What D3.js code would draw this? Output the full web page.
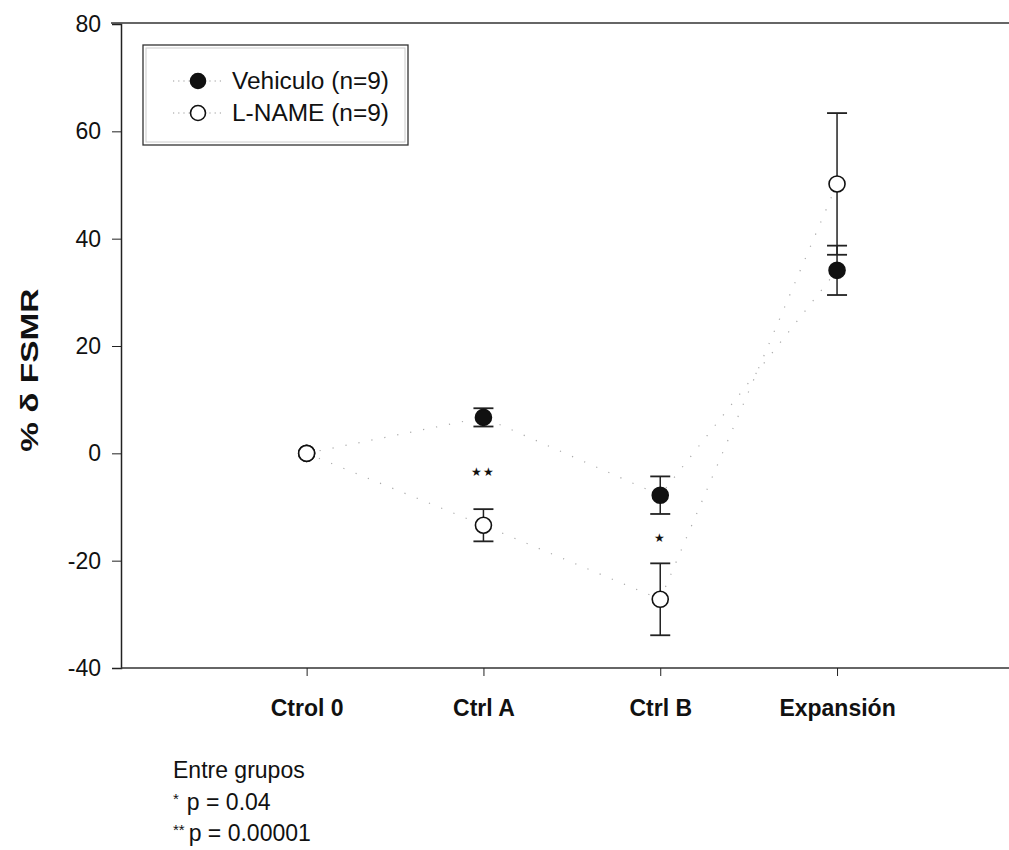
<!DOCTYPE html>
<html>
<head>
<meta charset="utf-8">
<script src="https://cdn.jsdelivr.net/npm/d3@7"></script>
<style>
  body { margin: 0; background: #fff; }
  text { font-family: "Liberation Sans", Arial, sans-serif; fill: #111; }
</style>
</head>
<body>
<svg id="chart" width="1009" height="850"></svg>
<script>
// Data
const categories = ["Ctrol 0", "Ctrl A", "Ctrl B", "Expansión"];
const vehiculoMean = [0, 6.7, -7.8, 34.1];
const vehiculoErr = [0, 1.7, 3.5, 4.6];
const lnameMean = [0, -13.4, -27.2, 50.2];
const lnameErr = [0, 3.0, 6.7, 13.2];
const yTicks = [-40, -20, 0, 20, 40, 60, 80];
const seriesNames = ["Vehiculo (n=9)", "L-NAME (n=9)"];
const sigMarks = [{cat: 1, value: -3.6, label: "★★"}, {cat: 2, value: -16.0, label: "★"}];
const footStars = ["", "*", "**"];
const footText = ["Entre grupos", "p = 0.04", "p = 0.00001"];

const svg = d3.select("#chart");

// Scales
const xScale = d3.scaleLinear()
  .domain([-1.05, 3.95])
  .range([121, 1005]);

const yScale = d3.scaleLinear()
  .domain([-40, 80])
  .range([668, 24]);

// Top frame line
svg.append("line")
  .attr("x1", 111).attr("x2", 1009)
  .attr("y1", 23).attr("y2", 23)
  .attr("stroke", "#333").attr("stroke-width", 1.5);

// y-axis
const yAxis = svg.append("g")
  .attr("transform", `translate(121, 0)`)
  .call(d3.axisLeft(yScale).tickValues(yTicks).tickSize(9).tickPadding(11)
    .tickFormat(d => d < 0 ? "-" + Math.abs(d) : d));
yAxis.select(".domain").attr("stroke", "#222").attr("stroke-width", 1.5);
yAxis.selectAll(".tick line").attr("stroke", "#222");
yAxis.selectAll("text")
  .attr("font-size", "23px")
  .attr("font-family", "Liberation Sans, Arial, sans-serif")
  .attr("fill", "#111");

// x-axis
const xAxis = svg.append("g")
  .attr("transform", `translate(0, ${yScale(-40)})`)
  .call(d3.axisBottom(xScale).tickValues(d3.range(categories.length))
    .tickFormat(i => categories[i]).tickSize(8).tickSizeOuter(0).tickPadding(24));
xAxis.select(".domain").attr("stroke", "#333").attr("stroke-width", 1.5)
  .attr("d", `M121,0H1009`);
xAxis.selectAll(".tick line").attr("stroke", "#222");
xAxis.selectAll("text")
  .attr("font-size", "23px")
  .attr("font-weight", "bold")
  .attr("font-family", "Liberation Sans, Arial, sans-serif")
  .attr("fill", "#111");

// Axis title
svg.append("text")
  .attr("transform", `translate(38, ${yScale(15.5)}) rotate(-90)`)
  .attr("text-anchor", "middle")
  .attr("font-size", "24px")
  .attr("font-weight", "bold")
  .attr("textLength", 163)
  .attr("lengthAdjust", "spacingAndGlyphs")
  .text("% δ FSMR");

// Series
const series = [
  {name: seriesNames[0], mean: vehiculoMean, err: vehiculoErr, fill: "#111"},
  {name: seriesNames[1], mean: lnameMean, err: lnameErr, fill: "#fff"}
];

const line = d3.line()
  .x((d, i) => xScale(i))
  .y(d => yScale(d));

// dotted connecting lines (faint, sparse)
series.forEach(s => {
  svg.append("path")
    .attr("d", line(s.mean))
    .attr("fill", "none")
    .attr("stroke", "#aaa")
    .attr("stroke-width", 1.2)
    .attr("stroke-dasharray", "1.2,12");
});

// error bars
series.forEach(s => {
  const g = svg.append("g");
  s.mean.forEach((m, i) => {
    if (s.err[i] === 0) return;
    const x = xScale(i);
    const yTop = yScale(m + s.err[i]);
    const yBot = yScale(m - s.err[i]);
    g.append("line").attr("x1", x).attr("x2", x).attr("y1", yTop).attr("y2", yBot)
      .attr("stroke", "#222").attr("stroke-width", 1.5);
    [yTop, yBot].forEach(yy => {
      g.append("line").attr("x1", x - 10).attr("x2", x + 10).attr("y1", yy).attr("y2", yy)
        .attr("stroke", "#222").attr("stroke-width", 1.8);
    });
  });
});

// markers (L-NAME drawn last, on top)
series.forEach(s => {
  svg.append("g").selectAll("circle")
    .data(s.mean)
    .join("circle")
    .attr("cx", (d, i) => xScale(i))
    .attr("cy", d => yScale(d))
    .attr("r", 8)
    .attr("fill", s.fill)
    .attr("stroke", "#111")
    .attr("stroke-width", 1.6);
});

// significance marks
svg.selectAll(".sig")
  .data(sigMarks)
  .join("text")
  .attr("class", "sig")
  .attr("x", d => xScale(d.cat))
  .attr("y", d => yScale(d.value))
  .attr("text-anchor", "middle")
  .attr("dominant-baseline", "middle")
  .attr("font-size", "12px")
  .attr("font-family", "DejaVu Sans, sans-serif")
  .attr("letter-spacing", "1px")
  .text(d => d.label);

// Legend
const legend = svg.append("g").attr("transform", "translate(143, 45)");
legend.append("rect")
  .attr("x", 0).attr("y", 0)
  .attr("width", 265).attr("height", 100)
  .attr("fill", "#fff")
  .attr("stroke", "#333").attr("stroke-width", 1.3);
legend.append("rect")
  .attr("x", 3).attr("y", 3)
  .attr("width", 259).attr("height", 94)
  .attr("fill", "none")
  .attr("stroke", "#ccc").attr("stroke-width", 1);

series.forEach((s, i) => {
  const yy = 36 + i * 32;
  legend.append("line")
    .attr("x1", 30).attr("x2", 80).attr("y1", yy).attr("y2", yy)
    .attr("stroke", "#999").attr("stroke-width", 1.2)
    .attr("stroke-dasharray", "1.2,4");
  legend.append("circle")
    .attr("cx", 55).attr("cy", yy).attr("r", 7.5)
    .attr("fill", s.fill).attr("stroke", "#111").attr("stroke-width", 1.6);
  legend.append("text")
    .attr("x", 89).attr("y", yy + 8)
    .attr("font-size", "23px")
    .attr("textLength", 157)
    .attr("lengthAdjust", "spacingAndGlyphs")
    .text(s.name);
});

// Footnote
footText.forEach((t, i) => {
  const txt = svg.append("text")
    .attr("x", 173)
    .attr("y", 778 + i * 31.5)
    .attr("font-size", "23px");
  if (footStars[i]) {
    txt.append("tspan")
      .attr("font-size", "15px")
      .attr("dy", -6)
      .text(footStars[i]);
    txt.append("tspan")
      .attr("dy", 6)
      .attr("dx", i === 1 ? 8 : 4)
      .text(t);
  } else {
    txt.text(t);
  }
});
</script>
</body>
</html>
